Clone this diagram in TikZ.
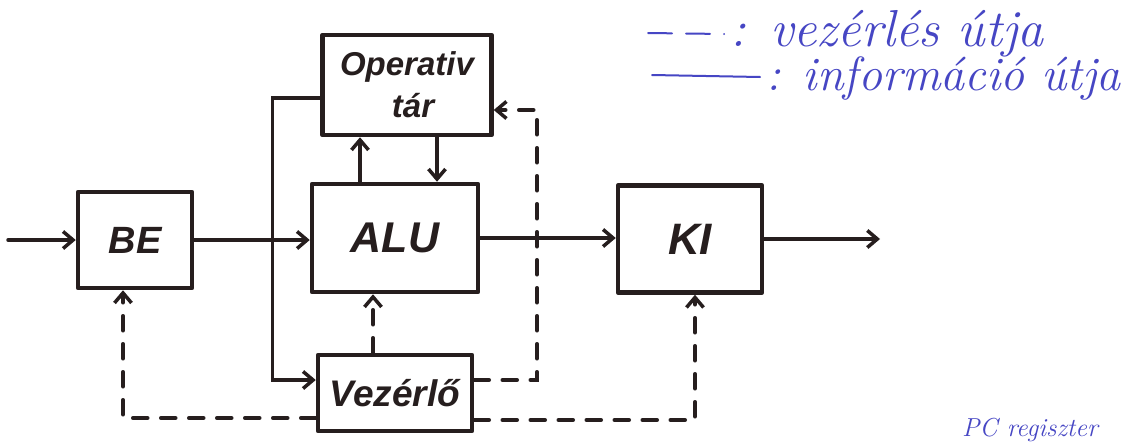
\documentclass[tikz,border=0pt]{standalone}
\usepackage{fontspec}
\setsansfont{Liberation Sans}
\usetikzlibrary{arrows.meta,calc}
\definecolor{ink}{RGB}{38,30,30}
\definecolor{pen}{RGB}{70,70,196}
\begin{document}
\begin{tikzpicture}[x=1pt,y=-1pt,
  box/.style={draw=ink, line width=4.5pt, inner sep=0pt, text=ink, line join=round},
  info/.style={draw=ink, line width=3.5pt, line cap=round, -{Straight Barb[length=10pt,width=17pt]}},
  ctrl/.style={info, dash pattern=on 15pt off 13pt},
  legtext/.style={text=pen, inner sep=0pt},
  legline/.style={draw=pen, line width=2pt, line cap=round}]
\useasboundingbox (0,0) rectangle (1126,445);
\fill[white] (0,0) rectangle (1126,445);

% blocks
\node[box, minimum width=114pt, minimum height=96pt,
  font=\sffamily\bfseries\itshape\fontsize{38}{38}\selectfont] (BE) at (135,240) {BE};
\node[box, minimum width=166pt, minimum height=108pt,
  font=\sffamily\bfseries\itshape\fontsize{43}{43}\selectfont] (ALU) at (395,238) {ALU};
\node[box, minimum width=169pt, minimum height=100pt, align=center,
  font=\sffamily\bfseries\itshape\fontsize{33}{42}\selectfont] (Op) at (407,85) {Operativ\\\hspace*{12pt}tár};
\node[box, minimum width=154pt, minimum height=76pt,
  font=\sffamily\bfseries\itshape\fontsize{37}{37}\selectfont] (Vez) at (395,393) {Vezérlő};
\node[box, minimum width=144pt, minimum height=107pt,
  font=\sffamily\bfseries\itshape\fontsize{44}{44}\selectfont] (KI) at (690,239) {KI};

% free ends
\coordinate (in) at (8,240);
\coordinate (out) at (880,240);
\coordinate (c1) at (537,0);

% information paths
\draw[info] (in) -- (BE.west);
\draw[info] (BE.east) -- (BE.east -| ALU.west);
\draw[info] (ALU.east) -- (ALU.east -| KI.west);
\draw[info] (KI.east) -- (KI.east -| out);
\coordinate (o0) at ([yshift=-13pt]Op.west);
\coordinate (v0) at ([yshift=13pt]Vez.west);
\draw[info] (o0) -- ++(-48,0) |- (v0);
\coordinate (a1) at ([xshift=-35pt]ALU.north);
\draw[info] (a1) -- (a1 |- Op.south);
\coordinate (a2) at ([xshift=42pt]ALU.north);
\draw[info] (a2 |- Op.south) -- (a2);

% control paths
\coordinate (a3) at ([xshift=-22pt]ALU.south);
\draw[ctrl] (a3 |- Vez.north) -- (a3);
\coordinate (v1) at ([yshift=13pt]Vez.east);
\coordinate (o1) at ([yshift=-25pt]Op.east);
\draw[ctrl] (v1) -| (c1 |- o1) -- (o1);
\coordinate (v2) at ([yshift=-27pt]Vez.east);
\coordinate (k1) at ([xshift=5pt]KI.south);
\draw[ctrl] (v2) -| (k1);
\coordinate (v3) at ([yshift=-25pt]Vez.west);
\coordinate (b1) at ([xshift=-12pt]BE.south);
\draw[ctrl] (v3) -| (b1);

% legend
\coordinate (l1) at (648,33);
\coordinate (l2) at (724,34);
\draw[legline, dash pattern=on 24pt off 14pt] (l1) -- (l2);
\node[legtext, anchor=base west, font=\itshape\fontsize{52}{52}\selectfont] (t1) at (730,46) {: vezérlés útja};
\coordinate (l3) at (652,75);
\coordinate (l4) at (760,77);
\draw[legline] (l3) -- (l4);
\node[legtext, anchor=base west, font=\itshape\fontsize{48}{48}\selectfont] (t2) at (766,90) {: információ útja};
\node[legtext, anchor=base west, font=\itshape\fontsize{26}{26}\selectfont] (t3) at (962,436) {PC regiszter};
\end{tikzpicture}
\end{document}
